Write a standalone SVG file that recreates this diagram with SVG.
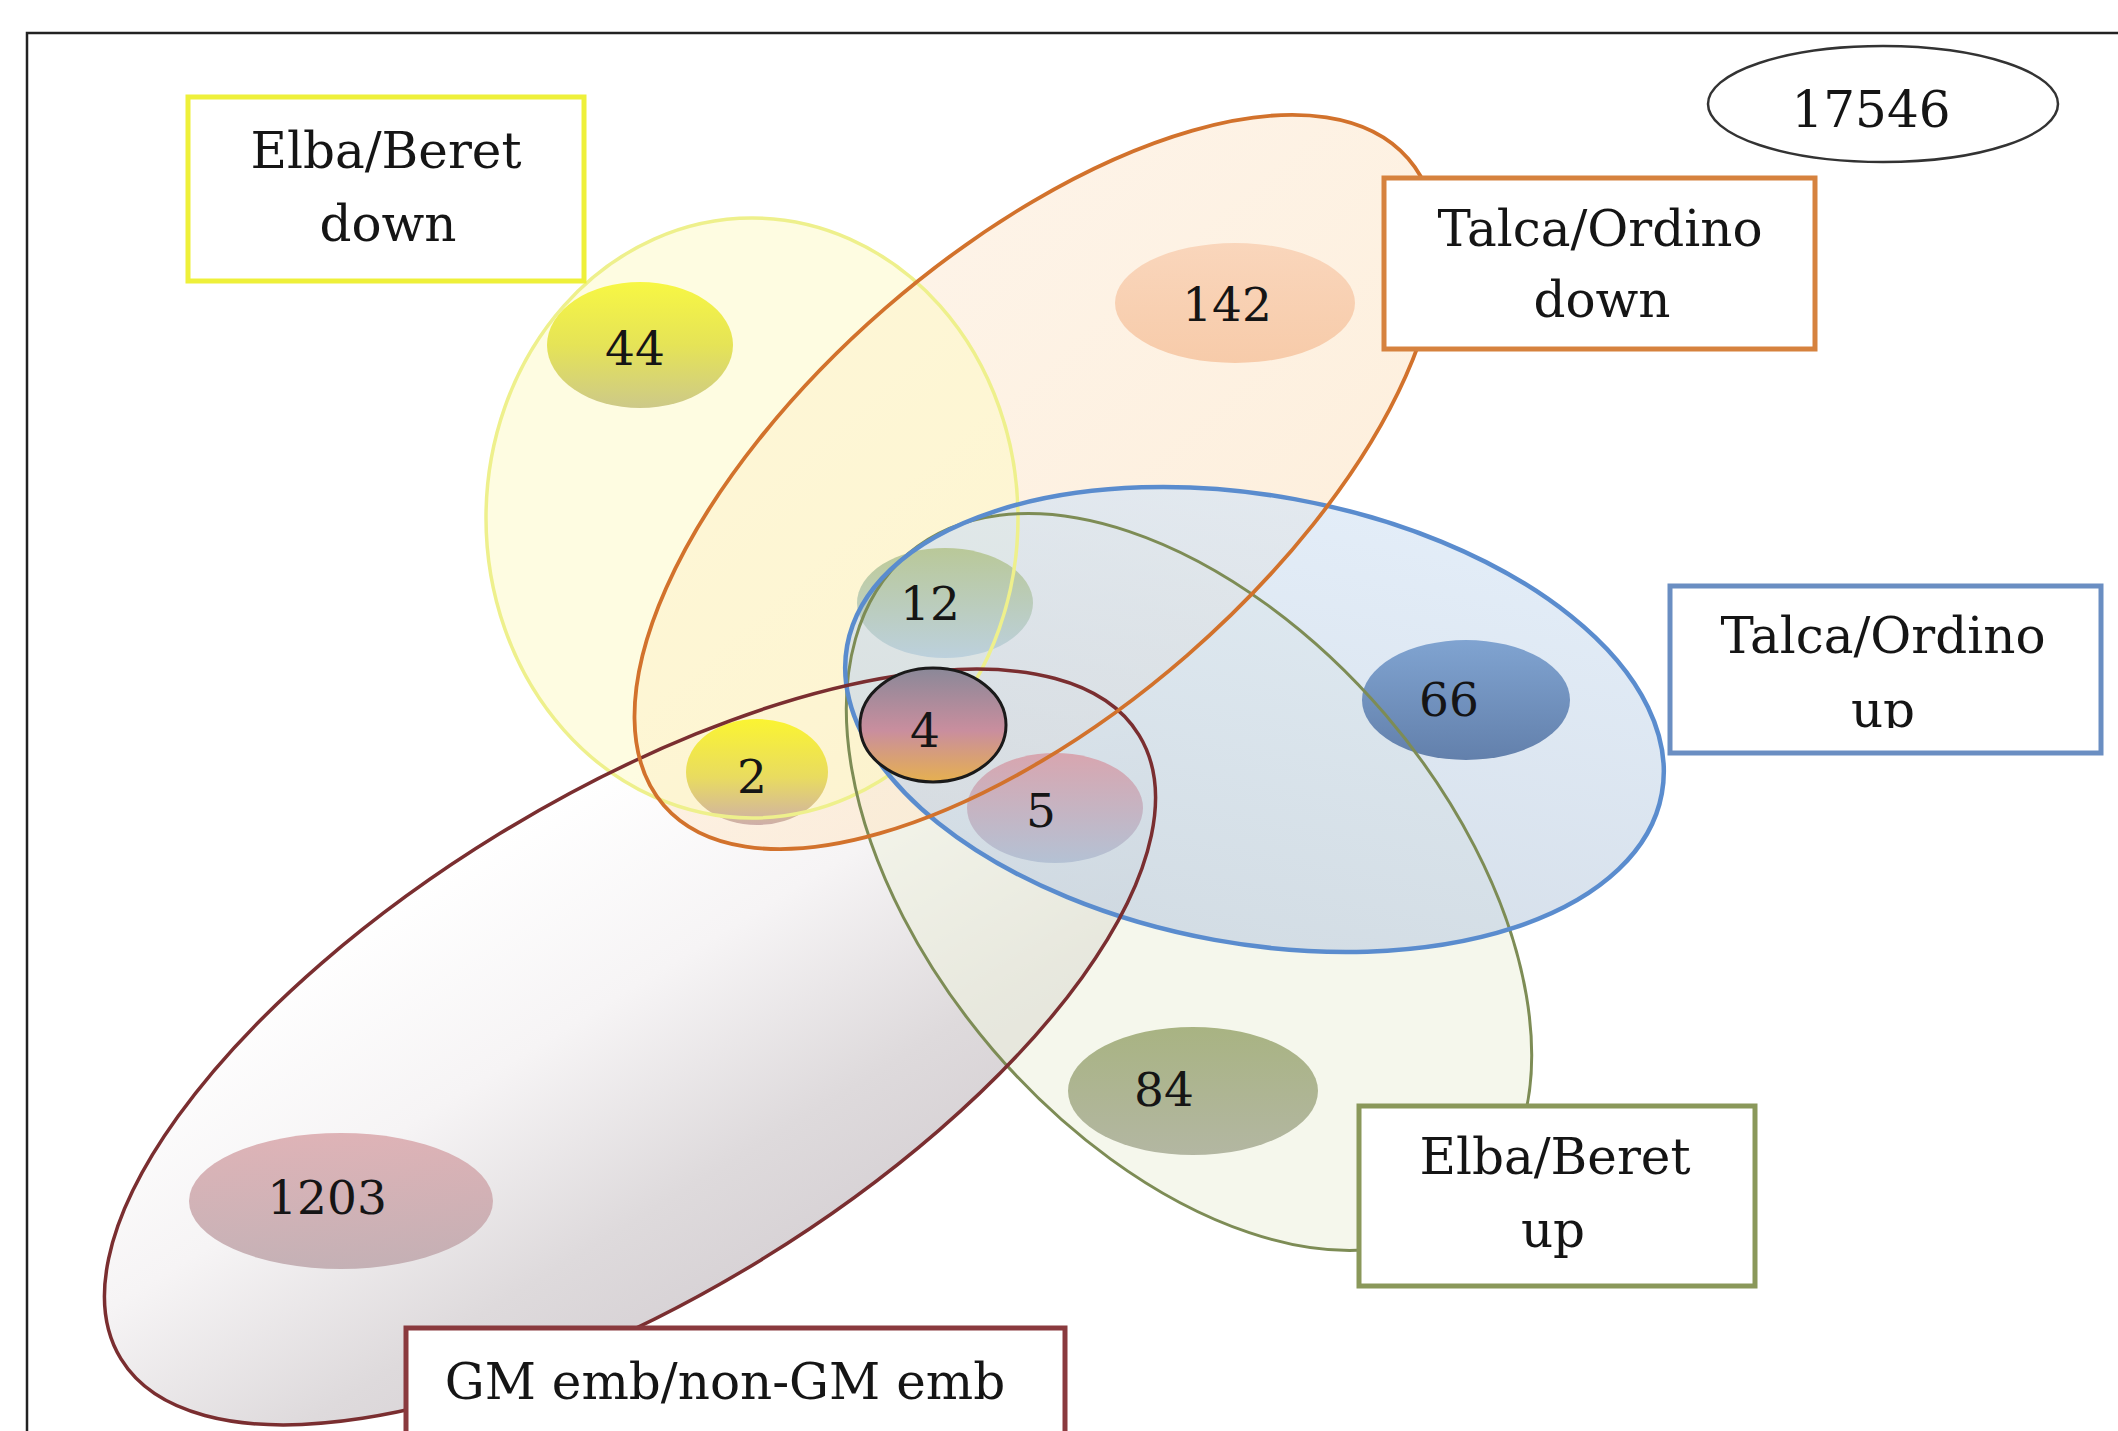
<svg xmlns="http://www.w3.org/2000/svg" width="2118" height="1431" viewBox="0 0 2118 1431">
<defs>
  <linearGradient id="gRed" x1="0" y1="0" x2="0" y2="1">
    <stop offset="0" stop-color="#ffffff"/>
    <stop offset="0.4" stop-color="#f6f4f5"/>
    <stop offset="0.8" stop-color="#dedadc"/>
    <stop offset="1" stop-color="#d8d3d6"/>
  </linearGradient>
  <linearGradient id="gBlue" x1="0" y1="0" x2="0" y2="1">
    <stop offset="0" stop-color="#d8e6f5"/>
    <stop offset="1" stop-color="#c6d3e2"/>
  </linearGradient>
  <linearGradient id="gOrange" x1="0" y1="0" x2="0" y2="1">
    <stop offset="0" stop-color="#fdeedd"/>
    <stop offset="1" stop-color="#fde9cf"/>
  </linearGradient>
  <linearGradient id="b44" x1="0" y1="0" x2="0" y2="1">
    <stop offset="0" stop-color="#f6f62e"/>
    <stop offset="0.5" stop-color="#e2e044"/>
    <stop offset="1" stop-color="#c6c27c"/>
  </linearGradient>
  <linearGradient id="b142" x1="0" y1="0" x2="0" y2="1">
    <stop offset="0" stop-color="#f9d2b6"/>
    <stop offset="1" stop-color="#f6c6a2"/>
  </linearGradient>
  <linearGradient id="b12" x1="0" y1="0" x2="0" y2="1">
    <stop offset="0" stop-color="#b4c48e"/>
    <stop offset="1" stop-color="#b8cedc"/>
  </linearGradient>
  <linearGradient id="b4" x1="0" y1="0" x2="0" y2="1">
    <stop offset="0" stop-color="#8a8898"/>
    <stop offset="0.55" stop-color="#c98e9e"/>
    <stop offset="1" stop-color="#e6b050"/>
  </linearGradient>
  <linearGradient id="b2" x1="0" y1="0" x2="0" y2="1">
    <stop offset="0" stop-color="#faf41c"/>
    <stop offset="0.55" stop-color="#e6d850"/>
    <stop offset="1" stop-color="#c8a6a2"/>
  </linearGradient>
  <linearGradient id="b5" x1="0" y1="0" x2="0" y2="1">
    <stop offset="0" stop-color="#d89ea8"/>
    <stop offset="1" stop-color="#b0bed2"/>
  </linearGradient>
  <linearGradient id="b66" x1="0" y1="0" x2="0" y2="1">
    <stop offset="0" stop-color="#739acc"/>
    <stop offset="1" stop-color="#5272a2"/>
  </linearGradient>
  <linearGradient id="b84" x1="0" y1="0" x2="0" y2="1">
    <stop offset="0" stop-color="#9eaa74"/>
    <stop offset="1" stop-color="#aaae98"/>
  </linearGradient>
  <linearGradient id="b1203" x1="0" y1="0" x2="0" y2="1">
    <stop offset="0" stop-color="#dbaaae"/>
    <stop offset="1" stop-color="#bfa9ae"/>
  </linearGradient>
  <clipPath id="clipUp">
    <rect x="1670" y="586" width="431" height="142"/>
  </clipPath>
</defs>
<style>
  .lbl { font-family: "DejaVu Serif", "Liberation Serif", serif; font-size: 50px; fill: #151515; text-anchor: middle; }
  .num { font-family: "DejaVu Serif", "Liberation Serif", serif; font-size: 47px; fill: #151515; text-anchor: middle; }
  .box { fill: #ffffff; stroke-width: 5; }
  .bub { opacity: 0.88; }
  .edge { fill: none; }
</style>

<rect x="0" y="0" width="2118" height="1431" fill="#ffffff"/>
<path d="M27,1431 V33 H2118" fill="none" stroke="#222" stroke-width="2.5"/>

<!-- region fills -->
<g id="region-fills">
  <ellipse id="fill-gm" cx="0" cy="0" rx="597" ry="250" transform="translate(630,1047) rotate(-31.5)" fill="url(#gRed)"/>
  <ellipse id="fill-eb-up" cx="0" cy="0" rx="432" ry="258" transform="translate(1189,882) rotate(49.4)" fill="#eef1e0" fill-opacity="0.6"/>
  <ellipse id="fill-to-down" cx="0" cy="0" rx="493" ry="230" transform="translate(1036,482) rotate(-41)" fill="url(#gOrange)" fill-opacity="0.7"/>
  <ellipse id="fill-eb-down" cx="752" cy="518" rx="266" ry="300" fill="#fdf9c4" fill-opacity="0.5"/>
  <ellipse id="fill-to-up" cx="0" cy="0" rx="414" ry="224" transform="translate(1254.5,719.5) rotate(10.3)" fill="url(#gBlue)" fill-opacity="0.72"/>
</g>

<!-- count bubbles -->
<g id="bubble-44" class="bub"><ellipse cx="640" cy="345" rx="93" ry="63" fill="url(#b44)"/></g>
<g id="bubble-142" class="bub"><ellipse cx="1235" cy="303" rx="120" ry="60" fill="url(#b142)"/></g>
<g id="bubble-12" class="bub"><ellipse cx="945" cy="603" rx="88" ry="55" fill="url(#b12)"/></g>
<g id="bubble-2" class="bub"><ellipse cx="757" cy="772" rx="71" ry="53" fill="url(#b2)"/></g>
<g id="bubble-5" class="bub"><ellipse cx="1055" cy="808" rx="88" ry="55" fill="url(#b5)"/></g>
<g id="bubble-66" class="bub"><ellipse cx="1466" cy="700" rx="104" ry="60" fill="url(#b66)"/></g>
<g id="bubble-84" class="bub"><ellipse cx="1193" cy="1091" rx="125" ry="64" fill="url(#b84)"/></g>
<g id="bubble-1203" class="bub"><ellipse cx="341" cy="1201" rx="152" ry="68" fill="url(#b1203)"/></g>

<!-- region outlines -->
<g id="region-outlines" class="edge">
  <ellipse id="edge-eb-down" cx="752" cy="518" rx="266" ry="300" stroke="#eef08c" stroke-width="3.5"/>
  <ellipse id="edge-eb-up" cx="0" cy="0" rx="432" ry="258" transform="translate(1189,882) rotate(49.4)" stroke="#7d8c55" stroke-width="3"/>
  <ellipse id="edge-to-up" cx="0" cy="0" rx="414" ry="224" transform="translate(1254.5,719.5) rotate(10.3)" stroke="#5a8cce" stroke-width="4.5"/>
  <ellipse id="edge-gm" cx="0" cy="0" rx="597" ry="250" transform="translate(630,1047) rotate(-31.5)" stroke="#7a2e30" stroke-width="3.5"/>
  <ellipse id="edge-to-down" cx="0" cy="0" rx="493" ry="230" transform="translate(1036,482) rotate(-41)" stroke="#d2722c" stroke-width="3.8"/>
</g>

<g id="bubble-4"><ellipse cx="933" cy="725" rx="73" ry="57" fill="url(#b4)" stroke="#1a1a1a" stroke-width="3"/></g>

<!-- count labels -->
<g id="counts">
  <text class="num" x="635" y="365">44</text>
  <text class="num" x="1227" y="321">142</text>
  <text class="num" x="930" y="620">12</text>
  <text class="num" x="925" y="747">4</text>
  <text class="num" x="752" y="793">2</text>
  <text class="num" x="1041" y="827">5</text>
  <text class="num" x="1449" y="716">66</text>
  <text class="num" x="1164" y="1106">84</text>
  <text class="num" x="327" y="1214">1203</text>
</g>

<!-- total -->
<g id="total">
  <ellipse cx="1883" cy="104" rx="175" ry="58" fill="#ffffff" stroke="#333" stroke-width="2.5"/>
  <text class="lbl" x="1871" y="127">17546</text>
</g>

<!-- set label boxes -->
<g id="label-eb-down">
  <rect class="box" x="188" y="97" width="396" height="184" stroke="#eef03a" stroke-width="6"/>
  <text class="lbl" x="386" y="168">Elba/Beret</text>
  <text class="lbl" x="388" y="241">down</text>
</g>
<g id="label-to-down">
  <rect class="box" x="1384" y="178" width="431" height="171" stroke="#d6823e"/>
  <text class="lbl" x="1600" y="246">Talca/Ordino</text>
  <text class="lbl" x="1602" y="317">down</text>
</g>
<g id="label-to-up">
  <rect class="box" x="1670" y="586" width="431" height="167" stroke="#6a8ec2"/>
  <text class="lbl" x="1883" y="653">Talca/Ordino</text>
  <text class="lbl" x="1883" y="727" clip-path="url(#clipUp)">up</text>
</g>
<g id="label-eb-up">
  <rect class="box" x="1359" y="1106" width="396" height="180" stroke="#8a985a"/>
  <text class="lbl" x="1555" y="1174">Elba/Beret</text>
  <text class="lbl" x="1553" y="1247">up</text>
</g>
<g id="label-gm">
  <rect class="box" x="406" y="1328" width="659" height="130" stroke="#8a3a3e"/>
  <text class="lbl" x="725" y="1399">GM emb/non-GM emb</text>
</g>
<g id="connectors"></g>
</svg>
